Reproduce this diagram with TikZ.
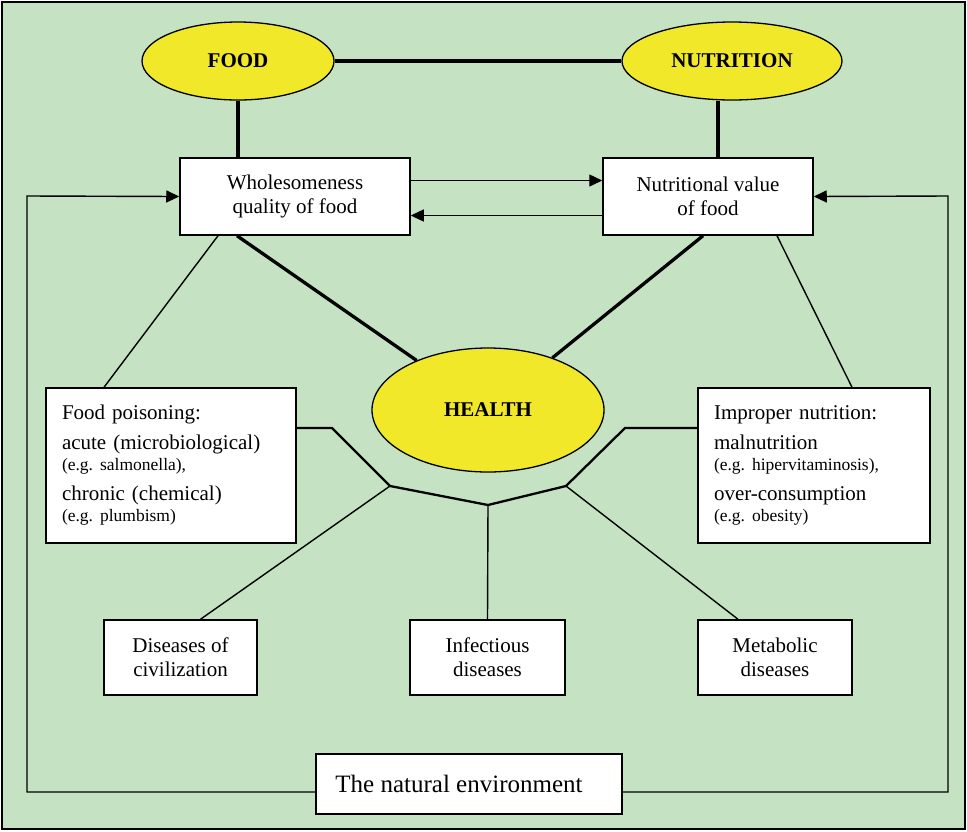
\documentclass[tikz,border=0pt]{standalone}
\usepackage{fontspec}
\setmainfont{Liberation Serif}
\usepackage{tikz}
\usetikzlibrary{calc, positioning, arrows.meta, shapes.geometric}

\definecolor{bggreen}{RGB}{197,226,195}
\definecolor{ovalyellow}{RGB}{240,232,40}

\newcommand{\bigtxt}{\fontsize{21}{24}\selectfont}
\newcommand{\smalltxt}{\fontsize{17.5}{20}\selectfont}
\frenchspacing

\begin{document}
\begin{tikzpicture}[x=1pt, y=-1pt,
	oval/.style={ellipse, draw, fill=ovalyellow, line width=1.3pt, inner sep=0pt, font=\bigtxt\bfseries},
	box/.style={rectangle, draw, fill=white, line width=1.5pt, align=center, font=\bigtxt, inner sep=0pt},
	heavy/.style={line width=4.5pt},
	medium/.style={line width=3.3pt},
	hub/.style={line width=2.3pt},
	link/.style={line width=1.4pt},
	arr/.style={line width=1.4pt, -{Triangle[length=13pt, width=12pt]}}]

		% frame %
		\useasboundingbox (0,0) rectangle (967,831);
		\draw[fill=bggreen, line width=2.2pt] (2,2) rectangle (965,829);

		% nodes - ovals %
		\node[oval, minimum width=192pt, minimum height=78pt] (food) at (238,61) {FOOD};
		\node[oval, minimum width=220pt, minimum height=78pt] (nutri) at (732,61) {NUTRITION};
		\node[oval, minimum width=232pt, minimum height=124pt] (health) at (488,410) {HEALTH\\[40pt]};

		% nodes - boxes %
		\node[box, minimum width=230pt, minimum height=77pt] (whole) at (295,196.5) {Wholesomeness\\quality of food};
		\node[box, minimum width=210pt, minimum height=77pt] (nutval) at (708,196.5) {Nutritional value\\of food};
		\node[box, minimum width=250pt, minimum height=155pt, align=left, text width=218pt] (poison) at (171,465.5)
			{Food poisoning:\\[6pt]
			 acute (microbiological)\\[-3pt]
			 {\smalltxt (e.g. salmonella),}\\[6pt]
			 chronic (chemical)\\[-3pt]
			 {\smalltxt (e.g. plumbism)}};
		\node[box, minimum width=232pt, minimum height=155pt, align=left, text width=200pt] (improper) at (814,465.5)
			{Improper nutrition:\\[6pt]
			 malnutrition\\[-3pt]
			 {\smalltxt (e.g. hipervitaminosis),}\\[6pt]
			 over-consumption\\[-3pt]
			 {\smalltxt (e.g. obesity)}};
		\node[box, minimum width=153pt, minimum height=75pt] (civ) at (180.5,657.5) {Diseases of\\civilization};
		\node[box, minimum width=155pt, minimum height=75pt] (infect) at (487.5,657.5) {Infectious\\diseases};
		\node[box, minimum width=154pt, minimum height=75pt] (metab) at (775,657.5) {Metabolic\\diseases};
		\node[box, minimum width=306pt, minimum height=60pt, font=\fontsize{25}{28}\selectfont] (env) at (469,784) {The natural environment\hspace{20pt}};

		% hub points %
		\coordinate (kl) at (332,428);
		\coordinate (hl) at (390,486);
		\coordinate (hm) at (488,505);
		\coordinate (hr) at (566,486);
		\coordinate (kr) at (625,428);
		\coordinate (lc) at (27,196);
		\coordinate (rc) at (948,196);

		% edges %
		\draw[heavy] (food) -- (nutri);
		\draw[medium] (food.south) -- (food.south |- whole.north);
		\draw[medium] ([xshift=-14pt]nutri.south) -- ([xshift=-14pt]nutri.south |- nutval.north);
		\draw[arr] ([yshift=16pt]whole.east) -- ([yshift=16pt]whole.east -| nutval.west);
		\draw[arr] ([yshift=-19pt]nutval.west) -- ([yshift=-19pt]nutval.west -| whole.east);
		\draw[medium] ([xshift=-58pt]whole.south) -- (health);
		\draw[medium] ([xshift=-5pt]nutval.south) -- (health);
		\draw[link] ([xshift=-77pt]whole.south) -- ([xshift=-67pt]poison.north);
		\draw[link] ([xshift=69pt]nutval.south) -- ([xshift=38pt]improper.north);
		\draw[hub] ([yshift=37.5pt]poison.east) -- (kl) -- (hl) -- (hm) -- (hr) -- (kr) -- ([yshift=37.5pt]improper.west);
		\draw[link] (hl) -- ([xshift=20pt]civ.north);
		\draw[link] (hm) -- (infect.north);
		\draw[link] (hr) -- ([xshift=-37pt]metab.north);
		\draw[arr] ([yshift=-8pt]env.west) -| (lc) -- (whole.west);
		\draw[arr] ([yshift=-8pt]env.east) -| (rc) -- (nutval.east);

\end{tikzpicture}
\end{document}
